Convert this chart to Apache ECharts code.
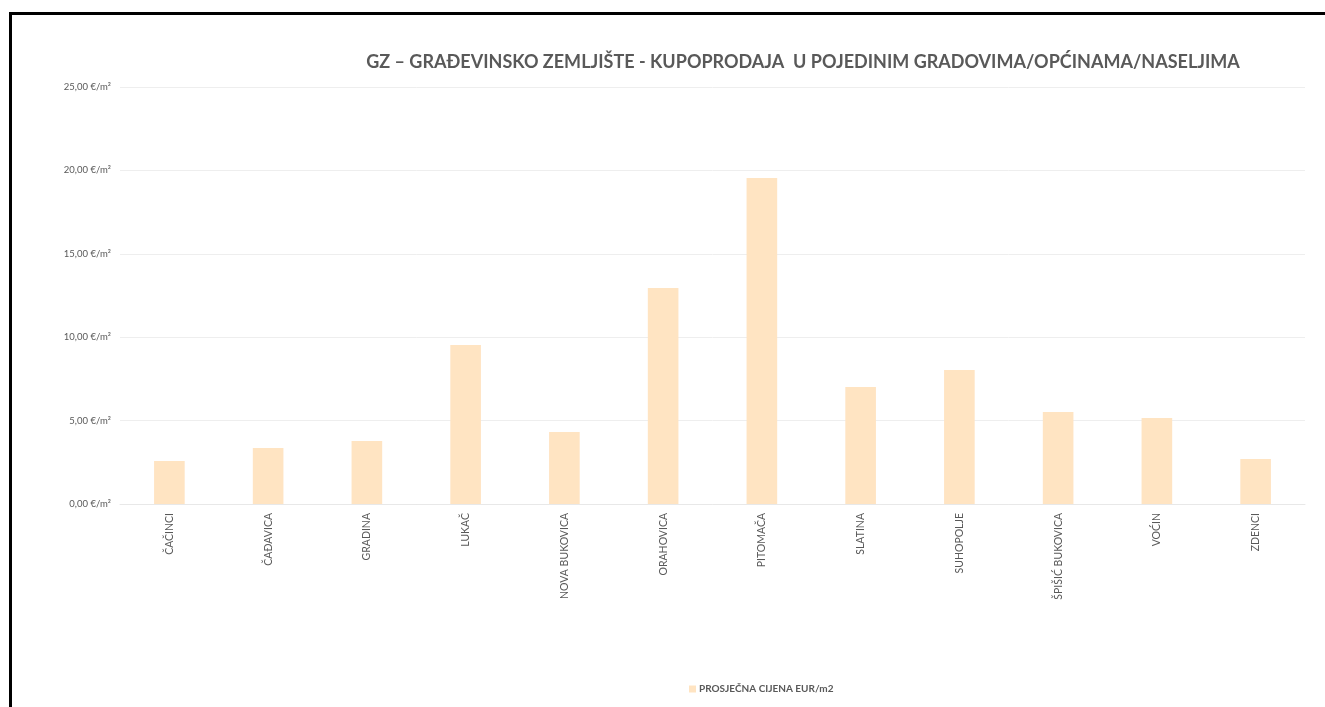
<!DOCTYPE html>
<html lang="hr">
<head>
    <meta charset="UTF-8">
    <script src="https://cdn.jsdelivr.net/npm/echarts@6/dist/echarts.min.js"></script>
    <title>GZ kupoprodaja</title>
    <style>
        body { margin: 0; background: #fff; }
        #chart { position: absolute; left: 0; top: 0; width: 1325px; height: 707px; }
        #frame { position: absolute; left: 9px; top: 12px; width: 1330px; height: 720px;
                 border-top: 3px solid #000; border-left: 3px solid #000; pointer-events: none; }
    </style>
</head>
<body>
<div id="chart"></div>
<div id="frame"></div>
<script type="text/javascript">
    var categories = ['ČAČINCI', 'ČAĐAVICA', 'GRADINA', 'LUKAČ', 'NOVA BUKOVICA', 'ORAHOVICA',
        'PITOMAČA', 'SLATINA', 'SUHOPOLJE', 'ŠPIŠIĆ BUKOVICA', 'VOĆIN', 'ZDENCI'];
    var prices = [2.58, 3.36, 3.78, 9.53, 4.32, 12.95, 19.55, 7.01, 8.03, 5.52, 5.16, 2.70];
    var seriesName = 'PROSJEČNA CIJENA EUR/m2';

    var chart = echarts.init(document.getElementById('chart'));
    chart.setOption({
        textStyle: { fontFamily: 'Lato' },
        title: {
            text: 'GZ – GRAĐEVINSKO ZEMLJIŠTE - KUPOPRODAJA  U POJEDINIM GRADOVIMA/OPĆINAMA/NASELJIMA',
            left: 798,
            textAlign: 'center',
            top: 48,
            textStyle: { fontSize: 18, fontWeight: 'bold', color: '#595959', fontFamily: 'Lato' }
        },
        legend: {
            bottom: 8,
            left: 684,
            itemWidth: 7,
            itemHeight: 7,
            itemGap: 6,
            icon: 'rect',
            textStyle: { fontSize: 10, fontWeight: 'bold', color: '#595959', padding: [0, 0, 0, -2] },
            data: [seriesName]
        },
        grid: { left: 120, right: 20, top: 87, height: 417 },
        xAxis: {
            type: 'category',
            data: categories,
            axisTick: { show: false },
            axisLine: { lineStyle: { color: '#e8e8e8' } },
            axisLabel: { rotate: 90, fontSize: 10.5, color: '#595959', margin: 9 }
        },
        yAxis: {
            type: 'value',
            min: 0,
            max: 25,
            interval: 5,
            axisLine: { show: false },
            axisTick: { show: false },
            splitLine: { lineStyle: { color: '#eeeeee' } },
            axisLabel: {
                fontSize: 9.5, color: '#595959', margin: 9,
                formatter: function (v) { return v.toFixed(2).replace('.', ',') + ' €/m²'; }
            }
        },
        series: [{
            name: seriesName,
            type: 'bar',
            data: prices,
            barWidth: '31%',
            itemStyle: { color: '#FFE4C2' }
        }]
    });
</script>
</body>
</html>
